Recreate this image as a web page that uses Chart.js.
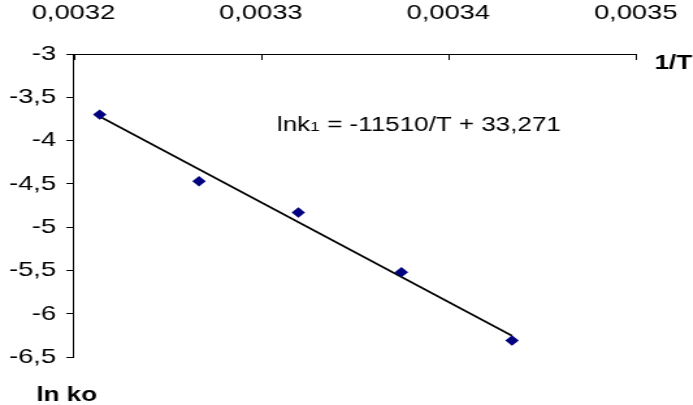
<!DOCTYPE html>
<html lang="pt-BR">
<head>
  <meta charset="UTF-8" />
  <title>ln ko x 1/T</title>
  <script src="https://cdn.jsdelivr.net/npm/chart.js"></script>
  <style>
    html, body { margin: 0; padding: 0; background: #fff; }
    /* o original está esticado na horizontal, então desenhamos estreito e esticamos */
    #wrap { width: 533px; height: 405px; transform: scaleX(1.3); transform-origin: 0 0; }
  </style>
</head>
<body>
  <div id="wrap"><canvas id="grafico"></canvas></div>
  <script>
    // dados
    const invT = [0.003214, 0.003267, 0.00332, 0.003375, 0.003434];
    const lnKo = [-3.70, -4.47, -4.83, -5.52, -6.31];
    // linha de tendência: lnk1 = -11510/T + 33,271
    const inclinacao = -11510;
    const intercepto = 33.271;
    const xTicks = [0.0032, 0.0033, 0.0034, 0.0035];
    const yTicks = [-3, -3.5, -4, -4.5, -5, -5.5, -6, -6.5];

    const FONTE = "'Liberation Sans', Arial, sans-serif";
    const virgula = v => String(v).replace('.', ',');

    const pontos = invT.map((x, i) => ({ x: x, y: lnKo[i] }));
    const xExt = [invT[0], invT[invT.length - 1]];
    const tendencia = xExt.map(x => ({ x: x, y: inclinacao * x + intercepto }));

    // marcas de escala do eixo x para dentro + textos soltos
    const extras = {
      id: 'extras',
      afterDraw(chart) {
        const c = chart.ctx;
        const sx = chart.scales.x;
        const top = chart.chartArea.top;
        c.save();
        c.strokeStyle = '#000';
        c.lineWidth = 1;
        xTicks.forEach(v => {
          const px = Math.round(sx.getPixelForValue(v)) + 0.5;
          c.beginPath();
          c.moveTo(px, top);
          c.lineTo(px, top + 6);
          c.stroke();
        });
        c.fillStyle = '#000';
        c.textBaseline = 'alphabetic';
        // equação
        let x = 213, y = 131;
        c.font = '20px ' + FONTE;
        c.fillText('lnk', x, y);
        x += c.measureText('lnk').width;
        c.font = '13.5px ' + FONTE;
        c.fillText('1', x, y);
        x += c.measureText('1').width;
        c.font = '20px ' + FONTE;
        c.fillText(' = -11510/T + 33,271', x, y);
        // títulos dos eixos
        c.font = 'bold 20px ' + FONTE;
        c.fillText('1/T', 503.5, 69);
        c.fillText('ln ko', 28, 401);
        c.restore();
      }
    };

    new Chart(document.getElementById('grafico'), {
      type: 'scatter',
      data: {
        datasets: [
          {
            label: 'ln ko',
            data: pontos,
            pointStyle: 'rectRot',
            pointRadius: 5.2,
            pointHoverRadius: 5.2,
            backgroundColor: '#000080',
            borderColor: '#000080',
            borderWidth: 0
          },
          {
            label: 'tendência',
            type: 'line',
            data: tendencia,
            borderColor: '#000',
            borderWidth: 1.6,
            pointRadius: 0,
            fill: false
          }
        ]
      },
      options: {
        responsive: true,
        maintainAspectRatio: false,
        animation: false,
        layout: { padding: { top: 0, left: 0, right: 44, bottom: 48 } },
        plugins: { legend: { display: false }, tooltip: { enabled: false } },
        scales: {
          x: {
            type: 'linear',
            position: 'top',
            min: 0.0032,
            max: 0.0035,
            afterBuildTicks: s => { s.ticks = xTicks.map(v => ({ value: v })); },
            afterFit: s => { s.height = 54; s.paddingLeft = 0; s.paddingRight = 0; },
            grid: { display: false },
            border: { display: true, color: '#000', width: 1 },
            ticks: {
              padding: 20,
              color: '#000',
              font: { family: FONTE, size: 21 },
              maxRotation: 0,
              callback: v => virgula(v.toFixed(4))
            }
          },
          y: {
            min: -6.5,
            max: -3,
            afterBuildTicks: s => { s.ticks = yTicks.map(v => ({ value: v })); },
            afterFit: s => { s.width = 56.5; s.paddingTop = 0; s.paddingBottom = 0; },
            grid: { drawOnChartArea: false, tickLength: 5.4, color: '#000' },
            border: { display: true, color: '#000', width: 1 },
            ticks: {
              padding: 8,
              color: '#000',
              font: { family: FONTE, size: 21 },
              callback: v => virgula(Math.round(v * 10) / 10)
            }
          }
        }
      },
      plugins: [extras]
    });
  </script>
</body>
</html>
